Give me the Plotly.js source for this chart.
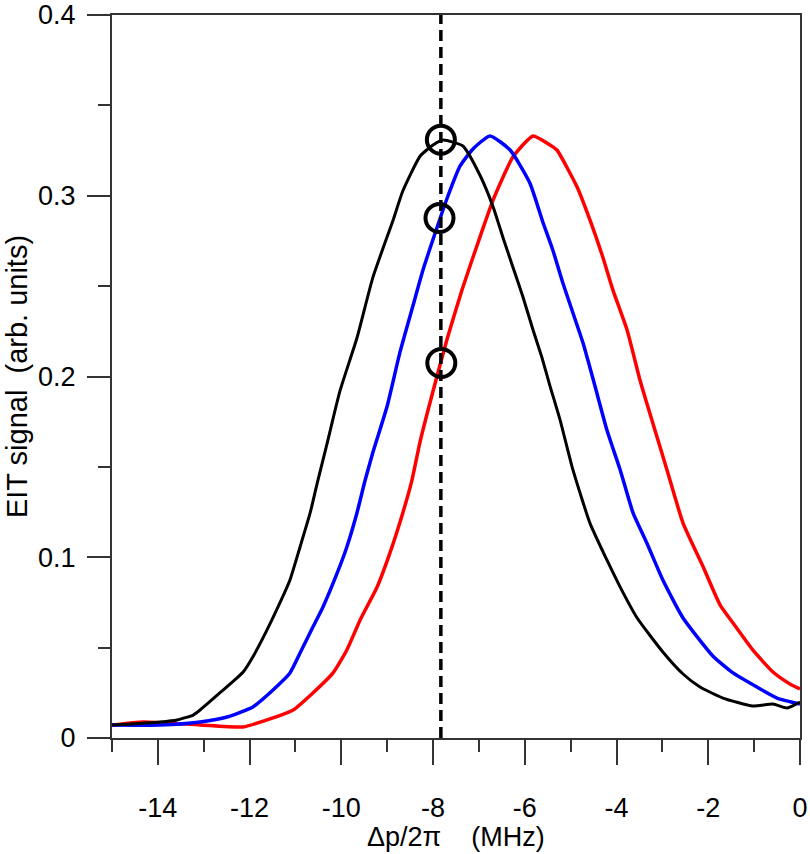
<!DOCTYPE html>
<html>
<head>
<meta charset="utf-8">
<script src="https://cdn.plot.ly/plotly-3.0.1.min.js"></script>
<style>
  html, body { margin: 0; padding: 0; background: #fff; }
  #eit { width: 810px; height: 854px; }
</style>
</head>
<body>
<div id="eit"></div>
<script>
// ------------------------------
// EIT spectra
// ------------------------------
var blackX = [-15.00, -13.95, -13.58, -13.23, -13.08, -12.65, -12.14, -11.93, -11.62, -11.34,
  -11.12, -10.90, -10.68, -10.51, -10.31, -10.03, -9.66, -9.31, -8.87, -8.66,
  -8.28, -8.00, -7.78, -7.35, -6.98, -6.69, -6.48, -6.26, -6.04, -5.82,
  -5.63, -5.45, -5.23, -4.95, -4.58, -4.21, -3.92, -3.55, -2.99, -2.55,
  -2.18, -1.68, -1.03, -0.59, -0.28, 0.00];
var blackY = [0.0072, 0.0089, 0.0100, 0.0127, 0.0155, 0.0249, 0.0365, 0.0448, 0.0598, 0.0747,
  0.0874, 0.1057, 0.1245, 0.1427, 0.1630, 0.1920, 0.2213, 0.2550, 0.2866, 0.3026,
  0.3220, 0.3281, 0.3308, 0.3275, 0.3115, 0.2938, 0.2772, 0.2606, 0.2440, 0.2257,
  0.2108, 0.1947, 0.1759, 0.1483, 0.1189, 0.0985, 0.0835, 0.0664, 0.0476, 0.0354,
  0.0282, 0.0221, 0.0177, 0.0188, 0.0166, 0.0199];

var blueX = [-15.00, -13.95, -13.08, -12.49, -11.93, -11.49, -11.12, -10.90, -10.62, -10.40,
  -10.09, -9.88, -9.66, -9.48, -9.31, -9.00, -8.72, -8.44, -8.22, -7.91,
  -7.70, -7.41, -7.13, -6.76, -6.32, -5.89, -5.60, -5.39, -5.17, -4.95,
  -4.73, -4.47, -4.21, -3.92, -3.64, -3.34, -2.99, -2.55, -1.90, -1.46,
  -0.94, -0.50, 0.00];
var blueY = [0.0072, 0.0072, 0.0089, 0.0116, 0.0172, 0.0266, 0.0360, 0.0470, 0.0614, 0.0725,
  0.0913, 0.1057, 0.1245, 0.1427, 0.1582, 0.1837, 0.2136, 0.2390, 0.2589, 0.2827,
  0.2982, 0.3165, 0.3259, 0.3331, 0.3253, 0.3071, 0.2849, 0.2700, 0.2517, 0.2351,
  0.2185, 0.1947, 0.1704, 0.1483, 0.1245, 0.1079, 0.0874, 0.0664, 0.0454, 0.0360,
  0.0282, 0.0221, 0.0188];

var redX = [-15.00, -14.32, -13.08, -12.14, -11.62, -11.05, -10.62, -10.18, -9.88, -9.59,
  -9.22, -8.94, -8.66, -8.46, -8.28, -8.00, -7.70, -7.37, -6.98, -6.69,
  -6.26, -5.82, -5.45, -5.30, -4.86, -4.58, -4.30, -4.08, -3.77, -3.49,
  -3.21, -2.90, -2.55, -2.11, -1.74, -1.46, -1.03, -0.59, -0.22, 0.00];
var redY = [0.0072, 0.0089, 0.0072, 0.0061, 0.0100, 0.0155, 0.0249, 0.0360, 0.0487, 0.0653,
  0.0835, 0.1024, 0.1245, 0.1427, 0.1643, 0.1920, 0.2202, 0.2479, 0.2770, 0.2977,
  0.3214, 0.3331, 0.3281, 0.3253, 0.3048, 0.2866, 0.2661, 0.2479, 0.2257, 0.1981,
  0.1743, 0.1483, 0.1189, 0.0946, 0.0735, 0.0636, 0.0487, 0.0365, 0.0299, 0.0271];

// ------------------------------
// Marker line and circled points
// ------------------------------
var cutX = [-7.83, -7.83];
var cutY = [0, 0.4];
var circX = [-7.83, -7.86, -7.82];
var circY = [0.331, 0.2877, 0.2075];

// ------------------------------
// Tick labels and titles
// ------------------------------
var xTickVals = [-14, -12, -10, -8, -6, -4, -2, 0];
var xTickText = ['-14', '-12', '-10', '-8', '-6', '-4', '-2', '0'];
var yTickVals = [0, 0.1, 0.2, 0.3, 0.4];
var yTickText = ['0', '0.1', '0.2', '0.3', '0.4'];
var xTitle = '\u0394p/2\u03c0    (MHz)';
var yTitle = 'EIT signal  (arb. units)';

var red = { x: redX, y: redY, type: 'scatter', mode: 'lines',
  line: { color: '#ff0000', width: 3.5, shape: 'spline', smoothing: 0.5 }, hoverinfo: 'skip' };
var blue = { x: blueX, y: blueY, type: 'scatter', mode: 'lines',
  line: { color: '#0000ff', width: 3.5, shape: 'spline', smoothing: 0.5 }, hoverinfo: 'skip' };
var black = { x: blackX, y: blackY, type: 'scatter', mode: 'lines',
  line: { color: '#000000', width: 3, shape: 'spline', smoothing: 0.5 }, hoverinfo: 'skip' };
var cut = { x: cutX, y: cutY, type: 'scatter', mode: 'lines',
  line: { color: '#000000', width: 3.5, dash: '11px,6px' }, hoverinfo: 'skip' };
var circ = { x: circX, y: circY, type: 'scatter', mode: 'markers',
  marker: { symbol: 'circle-open', size: 28, color: '#000000', line: { width: 4, color: '#000000' } },
  hoverinfo: 'skip' };

var data = [red, blue, black, cut, circ];

var fontFamily = 'Liberation Sans, Arial, sans-serif';
var tickFont = { family: fontFamily, size: 27, color: '#000' };

var layout = {
  width: 810,
  height: 854,
  margin: { l: 112, r: 10, t: 15, b: 116 },
  paper_bgcolor: '#fff',
  plot_bgcolor: '#fff',
  showlegend: false,
  font: tickFont,
  xaxis: {
    range: [-15, 0],
    tickmode: 'array',
    tickvals: xTickVals,
    ticktext: xTickText,
    ticks: 'outside',
    ticklen: 25,
    tickwidth: 2,
    tickcolor: '#333',
    minor: { dtick: 1, tick0: 0, ticks: 'outside', ticklen: 12, tickwidth: 2, tickcolor: '#333' },
    showgrid: false,
    zeroline: false,
    showline: true,
    linecolor: '#333',
    linewidth: 2,
    mirror: true,
    ticklabelstandoff: 20,
    tickfont: tickFont
  },
  yaxis: {
    range: [0, 0.4],
    tickmode: 'array',
    tickvals: yTickVals,
    ticktext: yTickText,
    ticks: 'outside',
    ticklen: 23,
    tickwidth: 2,
    tickcolor: '#333',
    minor: { dtick: 0.05, tick0: 0, ticks: 'outside', ticklen: 12, tickwidth: 2, tickcolor: '#333' },
    showgrid: false,
    zeroline: false,
    showline: true,
    linecolor: '#333',
    linewidth: 2,
    mirror: true,
    ticklabelstandoff: 6,
    tickfont: tickFont,
    title: { text: yTitle, font: { family: fontFamily, size: 29, color: '#000' }, standoff: 2 }
  },
  annotations: [{
    text: xTitle,
    xref: 'paper', yref: 'paper',
    x: 0.5, y: -0.137,
    xanchor: 'center', yanchor: 'middle',
    showarrow: false,
    font: tickFont
  }]
};

Plotly.newPlot('eit', data, layout, { staticPlot: true });
</script>
</body>
</html>
